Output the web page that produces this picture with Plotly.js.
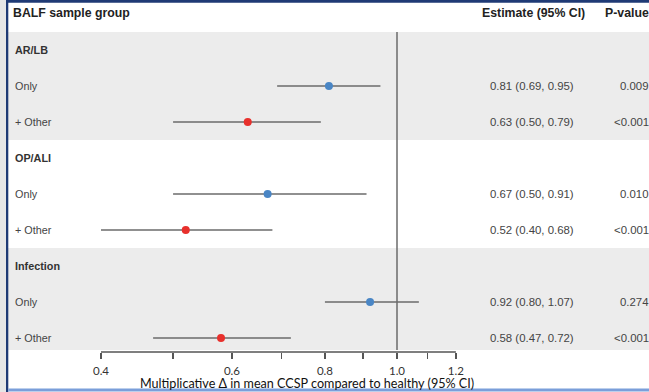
<!DOCTYPE html>
<html>
<head>
<meta charset="utf-8">
<script src="https://cdn.plot.ly/plotly-3.0.1.min.js"></script>
<style>html,body{margin:0;padding:0;background:#fff;}#chart{width:649px;height:392px;}</style>
</head>
<body>
<div id="chart"></div>
<script>
// ---- data ----
const groups = ["AR/LB", "OP/ALI", "Infection"];
const subLabels = ["Only", "+ Other"];
const onlyEst = [0.81, 0.67, 0.92];
const onlyLo  = [0.69, 0.50, 0.80];
const onlyHi  = [0.95, 0.91, 1.07];
const otherEst = [0.63, 0.52, 0.58];
const otherLo  = [0.50, 0.40, 0.47];
const otherHi  = [0.79, 0.68, 0.72];
const pOnly  = ["0.009", "0.010", "0.274"];
const pOther = ["<0.001", "<0.001", "<0.001"];
const tickVals = [0.4, 0.5, 0.6, 0.7, 0.8, 0.9, 1.0, 1.1, 1.2];
const tickText = ["0.4", "", "0.6", "", "0.8", "", "1.0", "", "1.2"];
const headers = ["BALF sample group", "Estimate (95% CI)", "P-value"];
const xTitle = "Multiplicative Δ in mean CCSP compared to healthy (95% CI)";

// ---- layout geometry ----
const W = 649, H = 392, B = 40;
const PH = H - B;
const pxPerDecade = 296 / Math.log10(1 / 0.4);
const xr0 = Math.log10(0.4) - 101 / pxPerDecade;
const xr1 = 0 + (W - 397) / pxPerDecade;
const rowTop = 50, rowStep = 36;
const yTop = (0 - rowTop) / rowStep;
const yBot = (PH - rowTop) / rowStep;
const py = p => 1 - p / PH; // pixel -> paper y
const px = p => p / W;

const onlyRows = groups.map((g, i) => 3 * i + 1);
const otherRows = groups.map((g, i) => 3 * i + 2);

const fmt = (e, l, h) => `${e.toFixed(2)} (${l.toFixed(2)}, ${h.toFixed(2)})`;

function ciTrace(est, lo, hi, rows, color) {
  return {
    type: "scatter", mode: "markers", x: est, y: rows,
    marker: {color: color, size: 8},
    error_x: {type: "data", symmetric: false,
      array: est.map((e, i) => hi[i] - e),
      arrayminus: est.map((e, i) => e - lo[i]),
      color: "#6b6b6b", thickness: 1.6, width: 0},
    hoverinfo: "skip", showlegend: false, cliponaxis: false
  };
}

const traces = [
  ciTrace(onlyEst, onlyLo, onlyHi, onlyRows, "#4a86c5"),
  ciTrace(otherEst, otherLo, otherHi, otherRows, "#e8302c")
];

const shapes = [
  // grey bands
  {type: "rect", xref: "paper", yref: "y", x0: px(8), x1: 1, y0: -0.5, y1: 2.5, fillcolor: "#ececec", line: {width: 0}, layer: "below"},
  {type: "rect", xref: "paper", yref: "y", x0: px(8), x1: 1, y0: 5.5, y1: (350 - rowTop) / rowStep, fillcolor: "#ececec", line: {width: 0}, layer: "below"},
  // reference line at 1
  {type: "line", xref: "x", yref: "y", x0: 1, x1: 1, y0: -0.5, y1: (350 - rowTop) / rowStep, line: {color: "#6b6b6b", width: 1.5}, layer: "below"},
  // axis line
  {type: "line", xref: "x", yref: "paper", x0: tickVals[0], x1: tickVals[tickVals.length - 1], y0: 0, y1: 0, line: {color: "#555", width: 1.3}},
  // frame decorations
  {type: "rect", xref: "paper", yref: "paper", x0: 0, x1: px(6), y0: py(H), y1: 1, fillcolor: "#e6e6e6", line: {width: 0}},
  {type: "rect", xref: "paper", yref: "paper", x0: px(6), x1: px(8.3), y0: py(H), y1: 1, fillcolor: "#1f3a75", line: {width: 0}},
  {type: "rect", xref: "paper", yref: "paper", x0: px(6), x1: 1, y0: py(2.8), y1: 1, fillcolor: "#1f3a75", line: {width: 0}},
  {type: "rect", xref: "paper", yref: "paper", x0: px(8.3), x1: 1, y0: py(391.5), y1: py(388.6), fillcolor: "#7b9fda", line: {width: 0}}
];

const ann = [];
const fam = "Liberation Sans, Arial, sans-serif";
const hdrFont = {family: fam, size: 12.3, color: "#222"};
const lblFont = {family: fam, size: 10.8, color: "#444"};
const estFont = {family: fam, size: 11.4, color: "#444"};
ann.push({xref: "paper", yref: "paper", x: px(11), y: py(13), xanchor: "left", yanchor: "middle", text: "<b>" + headers[0] + "</b>", showarrow: false, font: hdrFont});
ann.push({xref: "paper", yref: "paper", x: px(533), y: py(13), xanchor: "center", yanchor: "middle", text: "<b>" + headers[1] + "</b>", showarrow: false, font: hdrFont});
ann.push({xref: "paper", yref: "paper", x: px(651), y: py(13), xanchor: "right", yanchor: "middle", text: "<b>" + headers[2] + "</b>", showarrow: false, font: hdrFont});
groups.forEach((g, i) => {
  ann.push({xref: "paper", yref: "y", x: px(13), y: 3 * i, xanchor: "left", yanchor: "middle", text: "<b>" + g + "</b>", showarrow: false, font: {family: fam, size: 10.8, color: "#333"}});
  ann.push({xref: "paper", yref: "y", x: px(13), y: onlyRows[i], xanchor: "left", yanchor: "middle", text: subLabels[0], showarrow: false, font: lblFont});
  ann.push({xref: "paper", yref: "y", x: px(13), y: otherRows[i], xanchor: "left", yanchor: "middle", text: subLabels[1], showarrow: false, font: lblFont});
  ann.push({xref: "paper", yref: "y", x: px(532), y: onlyRows[i], xanchor: "center", yanchor: "middle", text: fmt(onlyEst[i], onlyLo[i], onlyHi[i]), showarrow: false, font: estFont});
  ann.push({xref: "paper", yref: "y", x: px(532), y: otherRows[i], xanchor: "center", yanchor: "middle", text: fmt(otherEst[i], otherLo[i], otherHi[i]), showarrow: false, font: estFont});
  ann.push({xref: "paper", yref: "y", x: px(651), y: onlyRows[i], xanchor: "right", yanchor: "middle", text: pOnly[i], showarrow: false, font: estFont});
  ann.push({xref: "paper", yref: "y", x: px(651), y: otherRows[i], xanchor: "right", yanchor: "middle", text: pOther[i], showarrow: false, font: estFont});
});
ann.push({xref: "paper", yref: "paper", x: px(307), y: py(392), xanchor: "center", yanchor: "bottom", borderpad: 0, text: xTitle, showarrow: false, font: {family: "Lato, Open Sans, sans-serif", size: 12.6, color: "#111"}});

const layout = {
  width: W, height: H,
  margin: {l: 0, r: 0, t: 0, b: B, pad: 0},
  paper_bgcolor: "#ffffff", plot_bgcolor: "rgba(0,0,0,0)",
  showlegend: false,
  xaxis: {type: "log", range: [xr0, xr1], tickmode: "array", tickvals: tickVals, ticktext: tickText,
    ticks: "outside", ticklen: 6, tickwidth: 1.3, tickcolor: "#555", showline: false, showgrid: false, zeroline: false,
    ticklabelstandoff: 2,
    tickfont: {family: "Lato, Open Sans, sans-serif", size: 11.5, color: "#333"}, fixedrange: true},
  yaxis: {range: [yBot, yTop], showticklabels: false, ticks: "", showgrid: false, zeroline: false, showline: false, fixedrange: true},
  shapes: shapes,
  annotations: ann
};

Plotly.newPlot("chart", traces, layout, {staticPlot: true, displayModeBar: false});
</script>
</body>
</html>
